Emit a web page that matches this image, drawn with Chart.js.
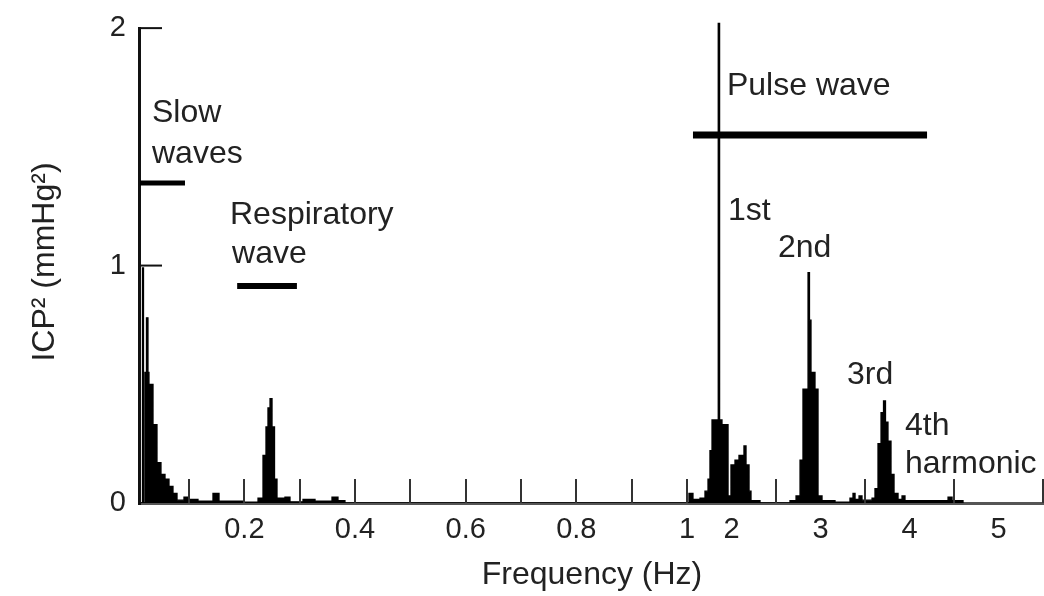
<!DOCTYPE html>
<html><head><meta charset="utf-8">
<script src="https://cdn.jsdelivr.net/npm/chart.js"></script>
<style>html,body{margin:0;padding:0;background:#fff;}canvas{display:block}</style>
</head><body>
<canvas id="c" width="1044" height="596"></canvas>
<script>
// ICP power spectrum: left edge of each step (Hz) and power (mmHg^2)
const freqHz = [
  0.0114, 0.0159, 0.0177, 0.0204, 0.0231, 0.0258, 0.0276, 0.0349, 0.0421, 0.0493,
  0.0566, 0.0638, 0.0710, 0.0783, 0.0909, 0.1000, 0.1162, 0.1433, 0.1542, 0.1975,
  0.2247, 0.2337, 0.2391, 0.2427, 0.2464, 0.2500, 0.2545, 0.2590, 0.2734, 0.2825,
  0.3060, 0.3277, 0.3584, 0.3692, 0.3818,
  1.500, 1.522, 1.567, 1.646, 1.702, 1.736, 1.758, 1.781, 1.851, 1.866,
  1.893, 1.961, 1.994, 2.039, 2.084, 2.140, 2.163, 2.197, 2.219, 2.320,
  2.657, 2.725, 2.770, 2.803, 2.860, 2.876, 2.893, 2.938, 2.972, 3.017,
  3.163, 3.331, 3.365, 3.388, 3.433, 3.466, 3.579, 3.612, 3.646, 3.680,
  3.708, 3.730, 3.758, 3.792, 3.826, 3.871, 3.916, 3.949, 4.433, 4.478, 4.601
];
const power = [
  0, 0.99, 0, 0.55, 0.78, 0.55, 0.50, 0.33, 0.17, 0.12,
  0.10, 0.07, 0.04, 0.012, 0.025, 0.015, 0.008, 0.04, 0.008, 0.004,
  0.02, 0.20, 0.32, 0.40, 0.44, 0.32, 0.10, 0.02, 0.025, 0.005,
  0.015, 0.008, 0.025, 0.01, 0,
  0, 0.04, 0.015, 0.02, 0.05, 0.10, 0.22, 0.35, 2.02, 0.35,
  0.33, 0.03, 0.16, 0.18, 0.20, 0.24, 0.16, 0.05, 0.01, 0,
  0.01, 0.03, 0.18, 0.48, 0.97, 0.77, 0.55, 0.48, 0.03, 0.01,
  0.004, 0.02, 0.04, 0.015, 0.03, 0.012, 0.02, 0.06, 0.25, 0.38,
  0.43, 0.34, 0.26, 0.12, 0.04, 0.015, 0.03, 0.01, 0.025, 0.01, 0
];

// Axis ticks
const xTickHz = [0.2, 0.4, 0.6, 0.8, 1, 2, 3, 4, 5];
const xTickLabels = ['0.2', '0.4', '0.6', '0.8', '1', '2', '3', '4', '5'];
const xTickMarksHz = [0.1, 0.2, 0.3, 0.4, 0.5, 0.6, 0.7, 0.8, 0.9, 1.0, 2.5, 3.5, 4.5, 5.5];
const yTicks = [0, 1, 2];
const yTickMarks = [1, 2];

// Frequency bands (horizontal bars)
const bandStartHz = [0.0114, 0.187, 1.567];
const bandEndHz = [0.0927, 0.295, 4.197];
const bandLevel = [1.348, 0.914, 1.55];
const bandThickness = [5, 6, 7];

// Text notes
const noteText = ['Slow', 'waves', 'Respiratory', 'wave', 'Pulse wave', '1st', '2nd', '3rd', '4th', 'harmonic'];
const noteHz = [0.0331, 0.0331, 0.174, 0.1777, 1.949, 1.961, 2.522, 3.298, 3.949, 3.949];
const noteLevel = [1.605, 1.432, 1.175, 1.011, 1.719, 1.192, 1.036, 0.501, 0.286, 0.126];

// Broken frequency axis: 0-1 Hz linear, then compressed 1.5-5.5 Hz section
const HIGH_START = 1.5;
const HIGH_SCALE = 89 / 553.3;
function toAxis(f) { return f <= 1 ? f : 1 + (f - HIGH_START) * HIGH_SCALE; }

const X_MIN_HZ = 0.0114, X_MAX_HZ = 5.511;
const Y_MAX = 2.03;
const FONT = '"Liberation Sans", Arial, sans-serif';
const TEXT = '#222';

const points = freqHz.map((f, i) => ({ x: toAxis(f), y: power[i] }));

const decor = {
  id: 'decor',
  afterDatasetsDraw(chart) {
    const { ctx, chartArea, scales: { x, y } } = chart;
    ctx.save();
    // y axis line
    ctx.strokeStyle = '#111';
    ctx.lineWidth = 3;
    ctx.beginPath();
    ctx.moveTo(chartArea.left - 0.5, y.getPixelForValue(2) - 1);
    ctx.lineTo(chartArea.left - 0.5, y.getPixelForValue(0) + 2);
    ctx.stroke();
    // y tick marks
    ctx.lineWidth = 2;
    yTickMarks.forEach(v => {
      const py = y.getPixelForValue(v);
      ctx.beginPath();
      ctx.moveTo(chartArea.left, py);
      ctx.lineTo(chartArea.left + 22, py);
      ctx.stroke();
    });
    // x tick marks (inward)
    ctx.strokeStyle = '#333';
    ctx.lineWidth = 2;
    const base = y.getPixelForValue(0);
    xTickMarksHz.forEach(f => {
      const px = Math.round(x.getPixelForValue(toAxis(f)));
      ctx.beginPath();
      ctx.moveTo(px, base);
      ctx.lineTo(px, base - 24);
      ctx.stroke();
    });
    // band bars
    ctx.strokeStyle = '#000';
    ctx.lineCap = 'butt';
    bandStartHz.forEach((f0, i) => {
      const py = y.getPixelForValue(bandLevel[i]);
      ctx.lineWidth = bandThickness[i];
      ctx.beginPath();
      ctx.moveTo(x.getPixelForValue(toAxis(f0)), py);
      ctx.lineTo(x.getPixelForValue(toAxis(bandEndHz[i])), py);
      ctx.stroke();
    });
    // notes
    ctx.fillStyle = TEXT;
    ctx.font = '32px ' + FONT;
    ctx.textAlign = 'left';
    ctx.textBaseline = 'alphabetic';
    noteText.forEach((t, i) => {
      ctx.fillText(t, x.getPixelForValue(toAxis(noteHz[i])), y.getPixelForValue(noteLevel[i]));
    });
    ctx.restore();
  }
};

new Chart(document.getElementById('c'), {
  type: 'line',
  data: {
    datasets: [{
      data: points,
      stepped: 'before',
      fill: 'origin',
      backgroundColor: '#000',
      borderColor: '#000',
      borderWidth: 1.3,
      pointRadius: 0,
      tension: 0
    }]
  },
  options: {
    responsive: false,
    animation: false,
    devicePixelRatio: 1,
    layout: { padding: { top: 21, left: 0, right: 0, bottom: 0 } },
    plugins: { legend: { display: false }, tooltip: { enabled: false } },
    scales: {
      x: {
        type: 'linear',
        min: toAxis(X_MIN_HZ),
        max: toAxis(X_MAX_HZ),
        grid: { display: false, drawTicks: false },
        border: { display: true, color: '#555', width: 3 },
        afterBuildTicks(scale) { scale.ticks = xTickHz.map(f => ({ value: toAxis(f) })); },
        afterFit(scale) { scale.height = 93; scale.paddingLeft = 0; scale.paddingRight = 0; },
        ticks: {
          autoSkip: false, maxRotation: 0, minRotation: 0, padding: 10,
          color: TEXT, font: { family: FONT, size: 29 },
          callback: (v, i) => xTickLabels[i]
        },
        title: {
          display: true, text: 'Frequency (Hz)', color: TEXT,
          font: { family: FONT, size: 32 }, padding: { top: 0, bottom: 2 }
        }
      },
      y: {
        min: 0, max: Y_MAX,
        grid: { display: false, drawTicks: false },
        border: { display: false },
        afterBuildTicks(scale) { scale.ticks = yTicks.map(v => ({ value: v })); },
        afterFit(scale) { scale.width = 140; scale.paddingTop = 0; scale.paddingBottom = 0; },
        ticks: {
          padding: 14, color: TEXT, font: { family: FONT, size: 29 },
          callback: v => String(v)
        },
        title: {
          display: true, text: 'ICP² (mmHg²)', color: TEXT,
          font: { family: FONT, size: 32 }, padding: { top: 26, bottom: 0 }
        }
      }
    }
  },
  plugins: [decor]
});
</script>
</body></html>
